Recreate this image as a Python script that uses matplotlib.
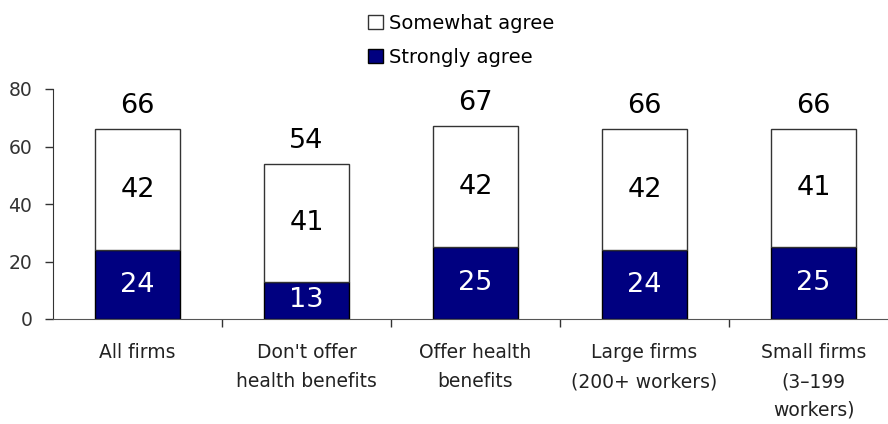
import matplotlib.pyplot as plt
import numpy as np

categories = ["All firms", "Don't offer\nhealth benefits", "Offer health\nbenefits",
              "Large firms\n(200+ workers)", "Small firms\n(3\u2013199\nworkers)"]
strongly = [24, 13, 25, 24, 25]
somewhat = [42, 41, 42, 42, 41]
totals = [66, 54, 67, 66, 66]

plt.rcParams['font.family'] = 'DejaVu Sans'
fig = plt.figure(figsize=(8.88, 4.24), dpi=100)
# axes spans past right edge of figure like the original
ax = fig.add_axes([53 / 888, 1 - 319 / 424, 845 / 888, 230 / 424])

x = np.arange(len(categories))
w = 0.5
b1 = ax.bar(x, strongly, w, color='#000080', edgecolor='black', linewidth=1,
            label='Strongly agree')
b2 = ax.bar(x, somewhat, w, bottom=strongly, color='white', edgecolor='#333333',
            linewidth=1, label='Somewhat agree')

for i in range(len(x)):
    ax.text(x[i], strongly[i] / 2, str(strongly[i]), ha='center', va='center',
            color='white', fontsize=19.5)
    ax.text(x[i], strongly[i] + somewhat[i] / 2, str(somewhat[i]), ha='center',
            va='center', color='black', fontsize=19.5)
    ax.text(x[i], totals[i] + 3.5, str(totals[i]), ha='center', va='bottom',
            color='black', fontsize=19.5)

ax.set_xlim(-0.5, 4.5)
ax.set_ylim(0, 80)
ax.set_yticks([0, 20, 40, 60, 80])
ax.tick_params(axis='y', labelsize=13.5, colors='#333333', length=6, width=1,
               pad=9)
ax.set_xticks([0.5, 1.5, 2.5, 3.5])
ax.set_xticklabels([])
ax.tick_params(axis='x', length=6, width=1, color='#333333', direction='out')
for s in ['top', 'right']:
    ax.spines[s].set_visible(False)
ax.spines['left'].set_color('#333333')
ax.spines['bottom'].set_color('#555555')

for i, c in enumerate(categories):
    ax.text(x[i], -8.5, c, ha='center', va='top', fontsize=13.5, color='#222222',
            linespacing=1.65)

fig.legend(handles=[b2, b1], loc='upper left', bbox_to_anchor=(368 / 888, 1 - 14 / 424),
           frameon=False, fontsize=14, handlelength=0.75, handleheight=0.75,
           handletextpad=0.35, labelspacing=0.75, borderaxespad=0, borderpad=0)

fig.savefig('out.png', dpi=100)
